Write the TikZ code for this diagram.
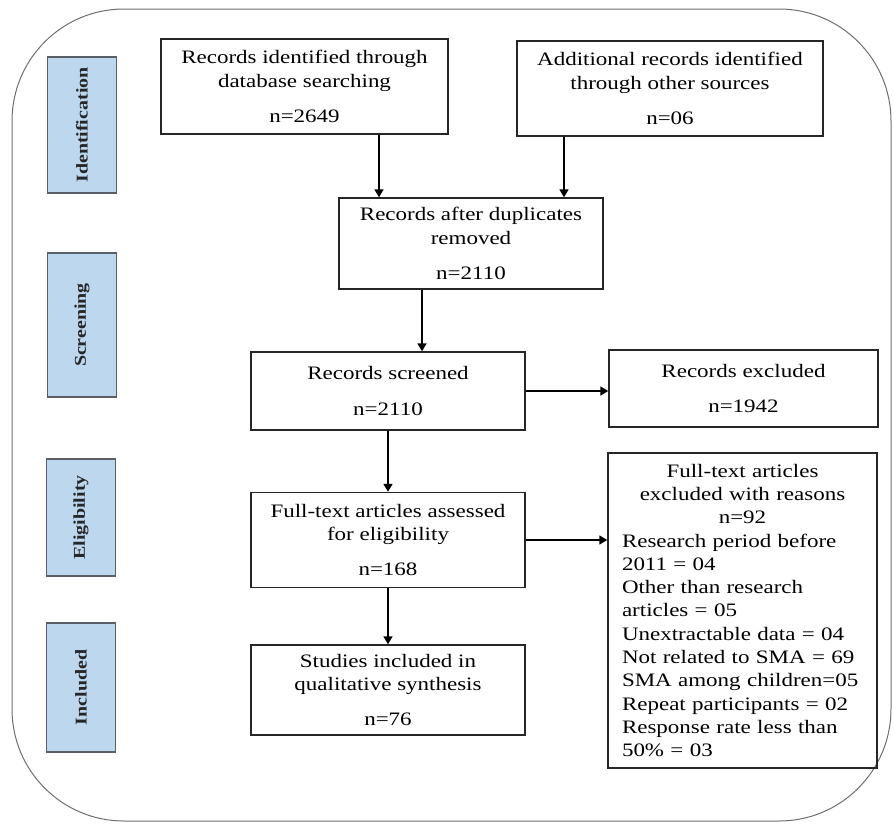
\documentclass[tikz,border=0pt]{standalone}
\usepackage{fontspec}
\setmainfont[FakeStretch=1.21]{Liberation Serif}
\usetikzlibrary{arrows.meta}

\definecolor{stagefill}{HTML}{BDD7EE}
\definecolor{stageline}{HTML}{5A5F66}
\definecolor{frameline}{HTML}{6E6E6E}

\begin{document}
\begin{tikzpicture}[
    x=1pt, y=-1pt,
    box/.style={draw=black!85, line width=1.4pt, align=center,
        font=\fontsize{19}{23.3}\selectfont, inner sep=0pt},
    stagebox/.style={draw=stageline, line width=1.2pt, fill=stagefill,
        rotate=90, minimum height=69pt, inner sep=0pt,
        font=\fontsize{16.5}{18}\selectfont\bfseries, text=black!85},
    arrow/.style={line width=1.6pt, -{Triangle[length=8pt,width=9pt]}},
  ]
  \useasboundingbox (0,0) rectangle (894,823);
  % outer frame
  \draw[frameline, line width=1pt, rounded corners=112pt] (12,9) rectangle (891,821);

  % stages
  \node[stagebox, minimum width=136pt] (ident)    at (82,125)   {Identification};
  \node[stagebox, minimum width=144pt] (screen)   at (82,325)   {Screening};
  \node[stagebox, minimum width=117pt] (elig)     at (81,517.5) {Eligibility};
  \node[stagebox, minimum width=129pt] (incl)     at (81,687.5) {Included};

  % flow boxes
  \node[box, minimum width=287pt, minimum height=95pt] (dbsearch) at (304.5,86.5)
      {Records identified through\\ database searching\\[12pt] n=2649};
  \node[box, minimum width=306pt, minimum height=95pt] (othersrc) at (670,88.5)
      {Additional records identified\\ through other sources\\[12pt] n=06};
  \node[box, minimum width=264pt, minimum height=91pt] (nodup) at (471,243.5)
      {Records after duplicates\\ removed\\[12pt] n=2110};
  \node[box, minimum width=274pt, minimum height=78pt] (screened) at (388,391)
      {Records screened\\[12pt] n=2110};
  \node[box, minimum width=269pt, minimum height=77pt] (excluded) at (743.5,388.5)
      {Records excluded\\[12pt] n=1942};
  \node[box, minimum width=274pt, minimum height=95pt] (fulltext) at (388,540)
      {Full-text articles assessed\\ for eligibility\\[12pt] n=168};
  \node[box, minimum width=274pt, minimum height=90pt] (included) at (388,690)
      {Studies included in\\ qualitative synthesis\\[12pt] n=76};
  \node[box, minimum width=269pt, minimum height=315pt, text width=241pt, align=left] (reasons) at (742.5,610.5)
      {\makebox[\linewidth]{Full-text articles}\\
       \makebox[\linewidth]{excluded with reasons}\\
       \makebox[\linewidth]{n=92}\\
       Research period before\\ 2011 = 04\\
       Other than research\\ articles = 05\\
       Unextractable data = 04\\
       Not related to SMA = 69\\
       SMA among children=05\\
       Repeat participants = 02\\
       Response rate less than\\ 50\% = 03};

  % connectors
  \draw[arrow] ([xshift=74.5pt]dbsearch.south) -- ([xshift=74.5pt]dbsearch.south |- nodup.north);
  \draw[arrow] ([xshift=-106pt]othersrc.south) -- ([xshift=-106pt]othersrc.south |- nodup.north);
  \draw[arrow] ([xshift=-49pt]nodup.south) -- ([xshift=-49pt]nodup.south |- screened.north);
  \draw[arrow] (screened.east) -- (screened.east -| excluded.west);
  \draw[arrow] (screened) -- (fulltext);
  \draw[arrow] (fulltext.east) -- (fulltext.east -| reasons.west);
  \draw[arrow] (fulltext) -- (included);
\end{tikzpicture}
\end{document}
